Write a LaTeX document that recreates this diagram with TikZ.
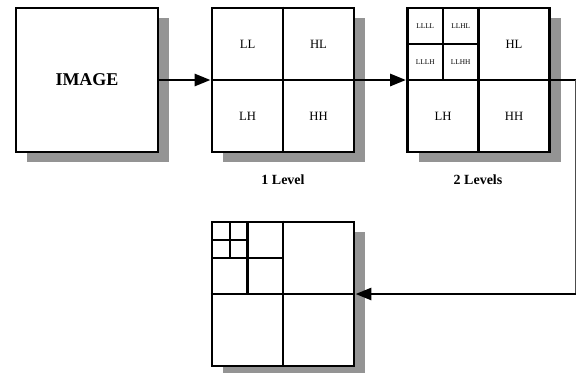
\documentclass[tikz,border=0pt]{standalone}
\usepackage{fontspec}
\setmainfont{Liberation Serif}
\usetikzlibrary{arrows.meta, shadows, positioning, calc}

\tikzset{
  panel/.style={draw, line width=2.2pt, fill=white, inner sep=0pt,
    minimum width=106.5pt, minimum height=108pt,
    drop shadow={shadow xshift=8.25pt, shadow yshift=-7.5pt, fill=black!42, opacity=1}},
  split/.style={line width=2pt},
  subsplit/.style={line width=1.7pt},
  band/.style={font=\fontsize{9.5}{10}\selectfont},
  subband/.style={font=\fontsize{5.5}{6}\selectfont, inner sep=0pt},
  caption/.style={font=\fontsize{10.5}{12}\selectfont\bfseries},
  link/.style={line width=2.2pt},
  flow/.style={line width=2.2pt, -{Triangle[length=12pt, width=9pt]}},
}

\begin{document}
\begin{tikzpicture}[x=0.75pt, y=-0.75pt]
  \useasboundingbox (0,0) rectangle (577,372);

  % boxes
  \node[panel, font=\fontsize{13.5}{15}\selectfont\bfseries] (img) at (87,80) {IMAGE};
  \node[panel] (lvl1) at (283,80) {};
  \node[panel] (lvl2) at (478.5,80) {};
  \node[panel] (lvl3) at (283,294) {};

  % one level
  \draw[split] (lvl1.north) -- (lvl1.south);
  \draw[split] (lvl1.west) -- (lvl1.east);
  \node[band] (ll1) at ($(lvl1.center)+(-35.5,-36)$) {LL};
  \node[band] (hl1) at ($(lvl1.center)+(35.5,-36)$) {HL};
  \node[band] (lh1) at ($(lvl1.center)+(-35.5,36)$) {LH};
  \node[band] (hh1) at ($(lvl1.center)+(35.5,36)$) {HH};
  \node[caption] (cap1) at (283,180) {1 Level};

  % two levels
  \draw[split] (lvl2.north) -- (lvl2.south);
  \draw[split] (lvl2.west) -- (lvl2.east);
  \draw[subsplit] ($(lvl2.center)+(-35.5,-72)$) -- ($(lvl2.center)+(-35.5,0)$);
  \draw[subsplit] ($(lvl2.center)+(-71,-36)$) -- ($(lvl2.center)+(0,-36)$);
  \node[subband] (llll) at ($(lvl2.center)+(-53.25,-54)$) {LLLL};
  \node[subband] (llhl) at ($(lvl2.center)+(-17.75,-54)$) {LLHL};
  \node[subband] (lllh) at ($(lvl2.center)+(-53.25,-18)$) {LLLH};
  \node[subband] (llhh) at ($(lvl2.center)+(-17.75,-18)$) {LLHH};
  \node[band] (hl2) at ($(lvl2.center)+(35.5,-36)$) {HL};
  \node[band] (lh2) at ($(lvl2.center)+(-35.5,36)$) {LH};
  \node[band] (hh2) at ($(lvl2.center)+(35.5,36)$) {HH};
  \node[caption] (cap2) at (478,180) {2 Levels};

  % three levels
  \draw[split] (lvl3.north) -- (lvl3.south);
  \draw[split] (lvl3.west) -- (lvl3.east);
  \draw[subsplit] ($(lvl3.center)+(-35.5,-72)$) -- ($(lvl3.center)+(-35.5,0)$);
  \draw[subsplit] ($(lvl3.center)+(-71,-36)$) -- ($(lvl3.center)+(0,-36)$);
  \draw[subsplit] ($(lvl3.center)+(-53.25,-72)$) -- ($(lvl3.center)+(-53.25,-36)$);
  \draw[subsplit] ($(lvl3.center)+(-71,-54)$) -- ($(lvl3.center)+(-35.5,-54)$);

  % connectors
  \coordinate (turn1) at (575.5,80);
  \coordinate (turn2) at (575.5,294);
  \draw[flow] (img.east) -- (lvl1.west);
  \draw[flow] (lvl1.east) -- (lvl2.west);
  \draw[link] (lvl2.east) -- (turn1);
  \draw[line width=0.8pt, black!70] (turn1) -- (turn2);
  \draw[flow] (turn2) -- (lvl3.east);
\end{tikzpicture}
\end{document}
